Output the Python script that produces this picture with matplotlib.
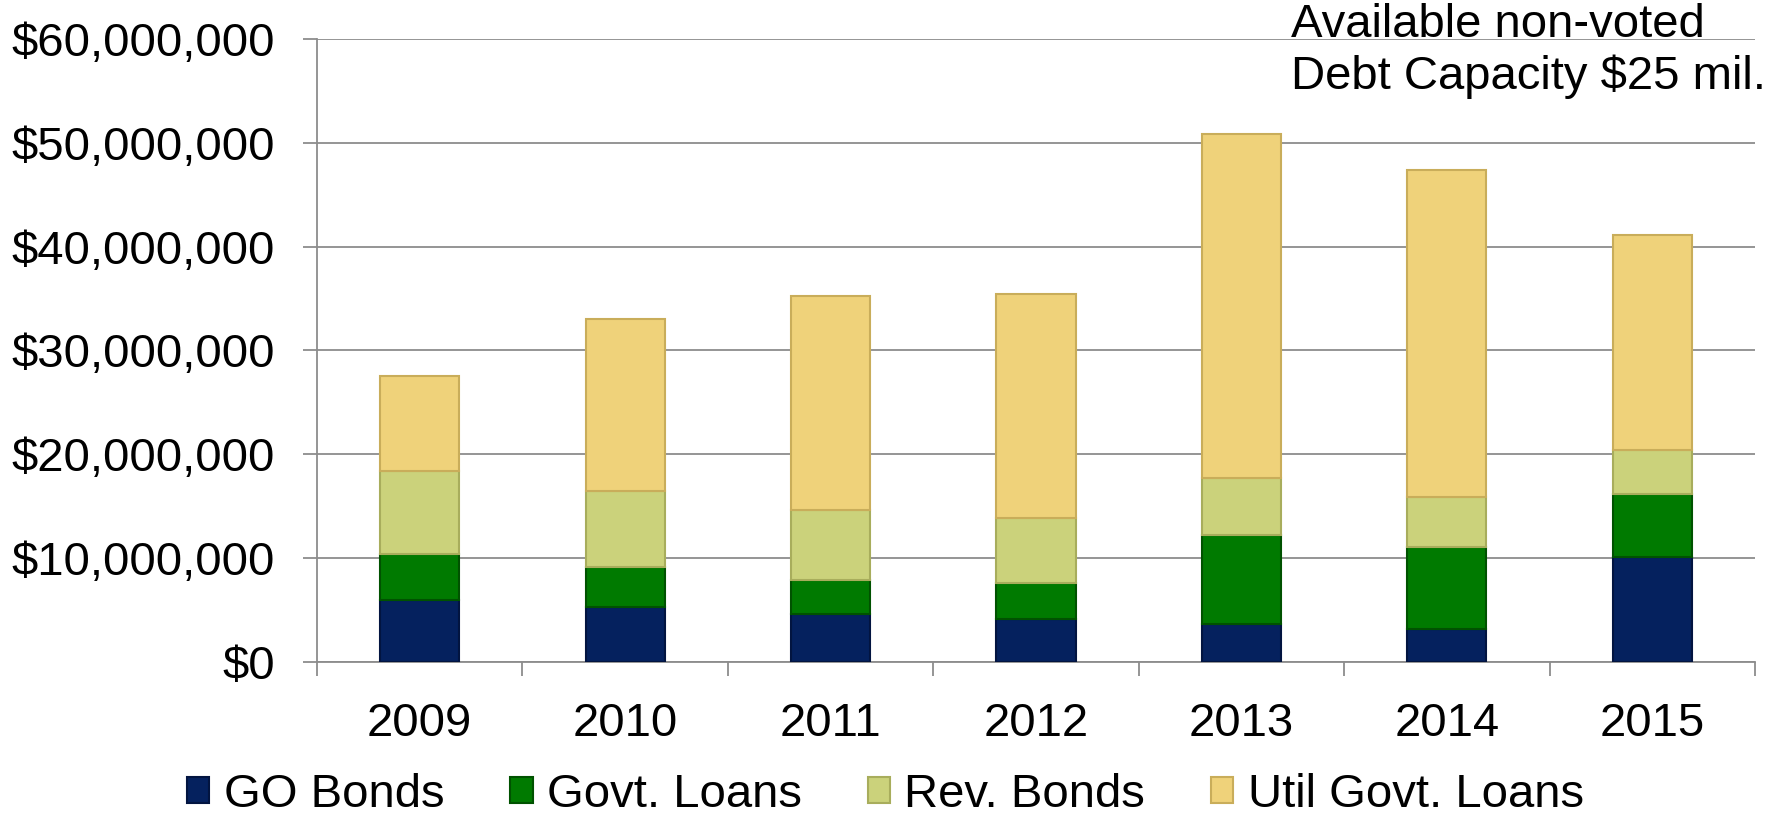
import numpy as np
import matplotlib.pyplot as plt
from matplotlib.ticker import FuncFormatter, FixedLocator

plt.rcParams['font.family'] = ['Liberation Sans', 'DejaVu Sans']

# Debt by year, in dollars
years = ["2009", "2010", "2011", "2012", "2013", "2014", "2015"]
go_bonds = [6.0e6, 5.3e6, 4.6e6, 4.1e6, 3.6e6, 3.2e6, 10.1e6]
govt_loans = [4.4e6, 3.85e6, 3.3e6, 3.5e6, 8.6e6, 7.9e6, 6.1e6]
rev_bonds = [8.0e6, 7.35e6, 6.7e6, 6.3e6, 5.5e6, 4.8e6, 4.2e6]
util_loans = [9.15e6, 16.5e6, 20.7e6, 21.5e6, 33.2e6, 31.5e6, 20.7e6]

series = [
    ("GO Bonds", go_bonds, "#05215e", "#021440"),
    ("Govt. Loans", govt_loans, "#007a00", "#005200"),
    ("Rev. Bonds", rev_bonds, "#cbd27b", "#a8ad5c"),
    ("Util Govt. Loans", util_loans, "#efd27a", "#c9ad5a"),
]

fig = plt.figure(figsize=(17.71, 8.17), dpi=100)
ax = fig.add_axes([0.179, 0.190, 0.812, 0.762])

x = np.arange(len(years))
width = 0.385
bottom = np.zeros(len(years))
for name, vals, face, edge in series:
    vals = np.array(vals)
    ax.bar(x, vals, width, bottom=bottom, color=face, edgecolor=edge,
           linewidth=1.5, label=name, zorder=3)
    bottom += vals

ax.set_xlim(-0.5, len(years) - 0.5)
ax.set_ylim(0, 60e6)
ax.set_yticks(np.arange(0, 60e6 + 1, 10e6))
ax.yaxis.set_major_formatter(FuncFormatter(lambda v, p: "${:,.0f}".format(v)))
ax.set_xticks(x)
ax.set_xticklabels(years)
ax.xaxis.set_minor_locator(FixedLocator(np.arange(-0.5, len(years), 1.0)))

grid_col = "#8c8c8c"
ax.grid(axis="y", color=grid_col, linewidth=1.3, zorder=0)
for s in ["top", "right"]:
    ax.spines[s].set_visible(False)
for s in ["left", "bottom"]:
    ax.spines[s].set_color(grid_col)
    ax.spines[s].set_linewidth(1.3)

ax.tick_params(axis="y", labelsize=34, length=10, width=1.3, color=grid_col, pad=20)
ax.tick_params(axis="x", which="major", labelsize=34, length=0, pad=29)
ax.tick_params(axis="x", which="minor", length=10, width=1.3, color=grid_col)

ax.legend(loc="center", bbox_to_anchor=(0.5, 0.027), bbox_transform=fig.transFigure,
          ncol=4, frameon=False, fontsize=34, handlelength=0.47, handleheight=0.47,
          handletextpad=0.3, columnspacing=1.4, borderaxespad=0, borderpad=0.1)

fig.text(0.729, 0.996, "Available non-voted\nDebt Capacity $25 mil.",
         fontsize=34, ha="left", va="top", linespacing=1.22)

fig.savefig("out.png", dpi=100)
